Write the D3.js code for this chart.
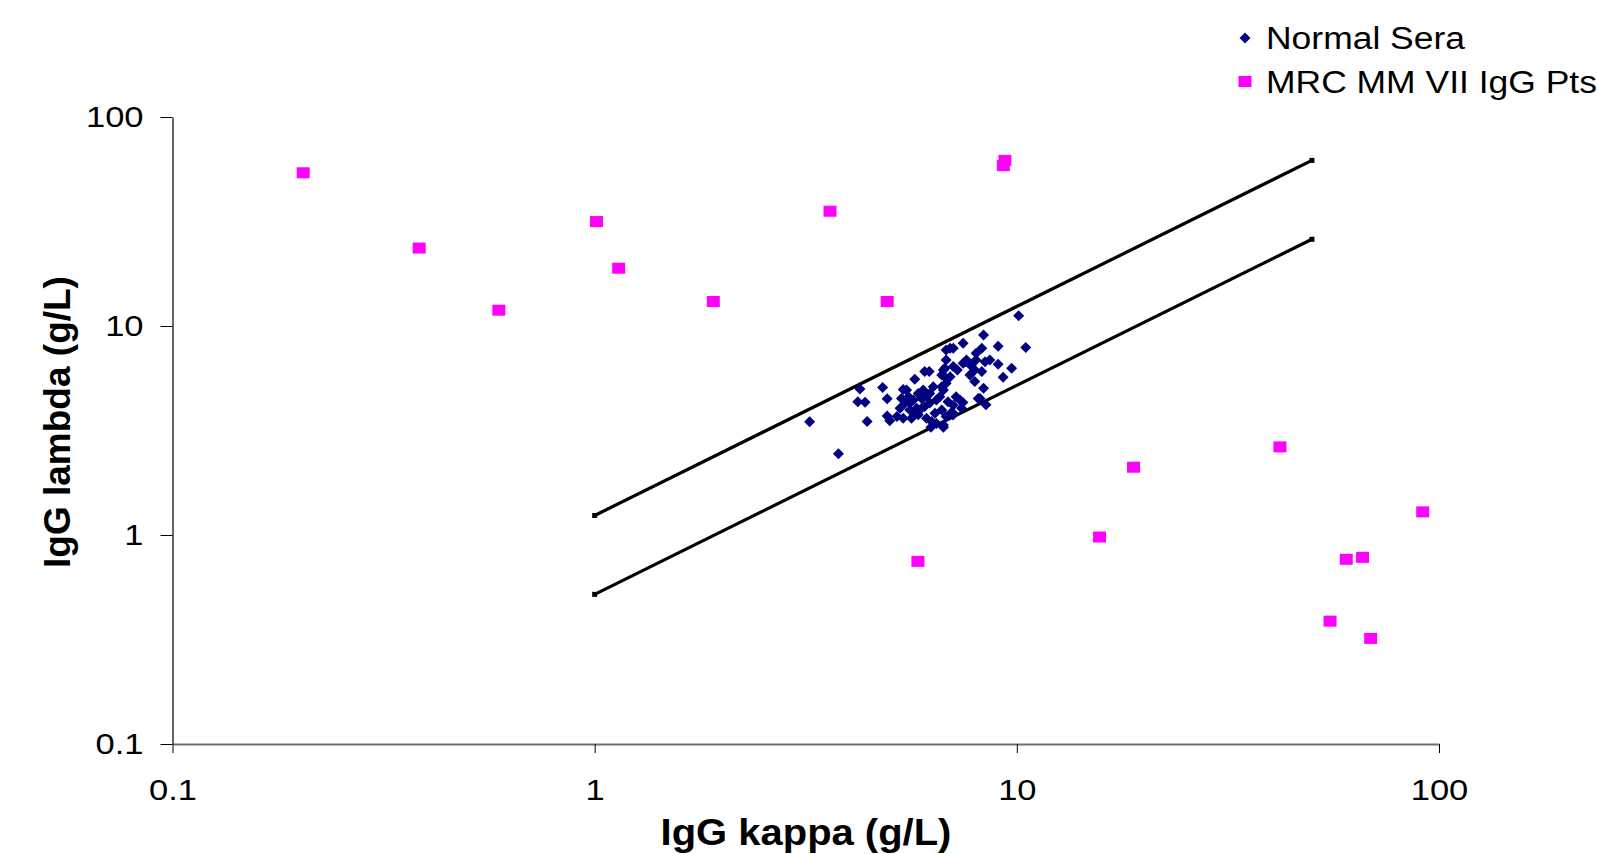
<!DOCTYPE html>
<html>
<head>
<meta charset="utf-8">
<script src="https://cdn.jsdelivr.net/npm/d3@7"></script>
<style>
  body { margin: 0; background: #fff; overflow: hidden; }
  text { font-family: Arial, "Liberation Sans", sans-serif; fill: #000; }
</style>
</head>
<body>
<svg id="chart" width="1597" height="854"></svg>
<script>
// Normal sera: [IgG kappa, IgG lambda] in g/L
var normalSera = [
  [3.23,3.48],[3.78,2.45],[4.25,5.0],[4.2,4.34],[4.37,4.32],[4.42,3.49],[4.81,5.08],[4.93,4.49],
  [4.93,3.71],[5.0,3.52],[5.38,4.97],[5.73,5.56],[6.2,6.05],[10.1,11.2],[10.5,7.9],[9.03,8.0],
  [8.34,9.06],[9.72,6.27],[9.28,5.68],[8.34,5.03],[8.18,4.5],[8.45,4.2],[7.46,8.27],[6.95,7.82],
  [6.8,7.68],[8.26,7.82],[8.63,6.88],[9.03,6.57],[8.01,7.4],[8.0,6.88],[7.8,6.44],[7.55,6.75],
  [7.23,6.16],[7.07,6.4],[6.8,6.88],[6.7,6.16],[6.8,5.62],[6.64,5.12],[6.95,5.72],[7.74,5.83],
  [7.95,5.42],[8.41,6.75],[7.18,4.59],[7.33,4.43],[7.45,4.3],[6.45,4.43],[6.22,4.28],[6.05,4.12],
  [6.11,4.59],[6.0,4.94],[5.84,4.76],[5.69,4.43],[5.54,4.59],[5.44,4.28],[5.29,4.04],[5.58,3.96],
  [5.79,4.04],[5.38,3.62],[5.2,3.69],[5.63,3.62],[5.84,3.76],[6.11,3.62],[6.28,3.49],[6.45,3.42],
  [6.7,3.36],[6.4,3.82],[6.64,3.96],[6.8,3.69],[7.07,3.82],[8.1,4.5],[5.48,4.94],[5.33,4.5],
  [6.26,3.28],[6.7,3.28],[7.06,3.75],[6.7,4.94],[6.8,5.32],[6.64,5.83],[7.46,6.64],[7.6,6.88],
  [7.95,6.16],[8.26,6.05],[7.07,7.82],[5.95,4.5],[6.22,4.76],[6.34,5.12],[6.57,4.59],[6.87,4.34],
  [7.07,4.18],[7.4,4.04],[6.05,6.05],[6.75,6.27],[5.73,3.82],[5.95,4.04],[5.58,4.28],[7.0,3.86]
];

// MRC MM VII IgG patients: [IgG kappa, IgG lambda] in g/L
var mrcPts = [
  [0.204,54.1],[0.384,23.6],[0.593,11.9],[1.01,31.6],[1.14,18.9],[1.91,13.1],[3.61,35.4],
  [4.93,13.1],[9.37,62],[9.29,58.5],[5.83,0.748],[15.7,0.978],[18.9,2.11],[42.0,2.64],
  [55.2,0.387],[60.3,0.765],[65.9,0.782],[68.9,0.32],[91.5,1.29]
];

// reference range lines
var refKappa = [1, 50];
var refUpper = [1.24, 62];
var refLower = [0.52, 26];

var axisTicks = [0.1, 1, 10, 100];

var svg = d3.select("#chart");

var x = d3.scaleLog().domain([0.1, 100]).range([172.5, 1439]);
var y = d3.scaleLog().domain([0.1, 100]).range([744, 117]);

// stretch horizontal text a bit, the original is wider than Arial
function stretch(sel, f) {
  sel.each(function () {
    var w = this.getComputedTextLength();
    d3.select(this).attr("textLength", w * f).attr("lengthAdjust", "spacingAndGlyphs");
  });
}

// y axis
var gy = svg.append("g")
  .attr("transform", "translate(172.5,0)")
  .call(d3.axisLeft(y).tickValues(axisTicks).tickFormat(function (d) { return d; })
    .tickSize(12).tickSizeOuter(0).tickPadding(17));
gy.select(".domain").attr("stroke", "#000").attr("stroke-width", 1.2);
gy.selectAll(".tick line").attr("stroke", "#000");
gy.selectAll(".tick text").attr("font-size", "30px").attr("fill", "#000")
  .attr("font-family", "Arial, 'Liberation Sans', sans-serif").call(stretch, 1.15);

// x axis
var gx = svg.append("g")
  .attr("transform", "translate(0,744)")
  .call(d3.axisBottom(x).tickValues(axisTicks).tickFormat(function (d) { return d; })
    .tickSize(9).tickSizeOuter(0).tickPadding(26));
gx.select(".domain").attr("stroke", "#707070").attr("stroke-width", 2);
gx.selectAll(".tick line").attr("stroke", "#000");
gx.selectAll(".tick text").attr("font-size", "30px").attr("fill", "#000")
  .attr("font-family", "Arial, 'Liberation Sans', sans-serif").call(stretch, 1.15);

// axis titles
svg.append("text")
  .attr("x", 806).attr("y", 845)
  .attr("text-anchor", "middle")
  .attr("font-size", "37px").attr("font-weight", "bold")
  .text("IgG kappa (g/L)")
  .call(stretch, 1.08);

svg.append("text")
  .attr("transform", "translate(70,422) rotate(-90)")
  .attr("text-anchor", "middle")
  .attr("font-size", "37px").attr("font-weight", "bold")
  .text("IgG lambda (g/L)");

// reference lines
[refUpper, refLower].forEach(function (ref) {
  var pts = refKappa.map(function (k, i) { return [k, ref[i]]; });
  svg.append("path")
    .datum(pts)
    .attr("fill", "none")
    .attr("stroke", "#000")
    .attr("stroke-width", 3.2)
    .attr("d", d3.line().x(function (d) { return x(d[0]); }).y(function (d) { return y(d[1]); }));
  svg.selectAll(null)
    .data(pts)
    .enter()
    .append("rect")
      .attr("x", function (d) { return x(d[0]) - 2.5; })
      .attr("y", function (d) { return y(d[1]) - 2.5; })
      .attr("width", 5).attr("height", 5)
      .attr("fill", "#000");
});

// normal sera diamonds
var diamond = "M0,-5.5L5.5,0L0,5.5L-5.5,0Z";
svg.selectAll(".normal")
  .data(normalSera)
  .enter()
  .append("path")
    .attr("class", "normal")
    .attr("d", diamond)
    .attr("transform", function (d) { return "translate(" + x(d[0]) + "," + y(d[1]) + ")"; })
    .attr("fill", "#000080");

// patient squares
svg.selectAll(".mrc")
  .data(mrcPts)
  .enter()
  .append("rect")
    .attr("class", "mrc")
    .attr("x", function (d) { return x(d[0]) - 6.5; })
    .attr("y", function (d) { return y(d[1]) - 5.5; })
    .attr("width", 13).attr("height", 11)
    .attr("fill", "#FF00FF");

// legend
var legend = svg.append("g");
legend.append("path").attr("d", diamond).attr("transform", "translate(1245,38)").attr("fill", "#000080");
legend.append("rect").attr("x", 1238.5).attr("y", 76).attr("width", 13).attr("height", 11).attr("fill", "#FF00FF");
var l1 = legend.append("text").attr("x", 1266).attr("y", 49).attr("font-size", "31px").text("Normal Sera");
var l2 = legend.append("text").attr("x", 1266).attr("y", 93).attr("font-size", "31px").text("MRC MM VII IgG Pts");
var f = 199 / l1.node().getComputedTextLength();
l1.call(stretch, f);
l2.call(stretch, f);
</script>
</body>
</html>
